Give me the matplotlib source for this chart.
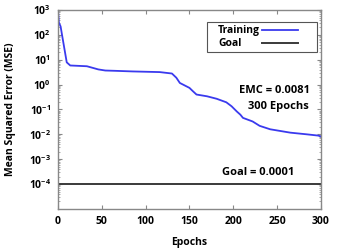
import numpy as np
import matplotlib.pyplot as plt
from matplotlib.ticker import FixedLocator, LogLocator, NullFormatter
from matplotlib.lines import Line2D
from matplotlib.patches import Rectangle

# values
epochs = [0, 1, 3, 4.5, 10, 14, 33, 46, 54, 65, 85, 116, 130, 135, 139, 150,
          154, 158, 170, 181, 192, 198, 204, 208, 211, 222, 230, 242, 265,
          284, 297, 300]
mse = [1000, 320, 220, 107, 7.9, 5.9, 5.5, 4.1, 3.7, 3.6, 3.4, 3.2, 2.8, 1.9,
       1.17, 0.74, 0.54, 0.40, 0.34, 0.27, 0.195, 0.135, 0.083, 0.062, 0.046,
       0.033, 0.022, 0.016, 0.0117, 0.010, 0.0089, 0.0081]
goal = 1e-4
x_ticks = [0, 50, 100, 150, 200, 250, 300]
y_exps = [3, 2, 1, 0, -1, -2, -3, -4]
series_names = ['Training', 'Goal']

plt.rcParams['font.family'] = 'Open Sans'
plt.rcParams['font.weight'] = 'bold'
plt.rcParams['mathtext.fontset'] = 'custom'
plt.rcParams['mathtext.rm'] = 'Open Sans:bold'
plt.rcParams['mathtext.it'] = 'Open Sans:bold'
plt.rcParams['mathtext.bf'] = 'Open Sans:bold'

fig = plt.figure(figsize=(3.37, 2.52), dpi=100)
ax = fig.add_axes([0.172, 0.171, 0.7805, 0.789])

train_line, = ax.semilogy(epochs, mse, color='#3a3aee', lw=1.3)
goal_line = ax.axhline(goal, color='#3a3a3a', lw=1.4)

ax.set_xlim(0, 300)
ax.set_ylim(1e-5, 1e3)
ax.set_xticks(x_ticks)
ax.set_xticklabels([str(t) for t in x_ticks], fontsize=7.5, fontweight='bold')
ax.yaxis.set_major_locator(FixedLocator([10.0 ** e for e in y_exps]))
ax.set_yticklabels([r'$10^{%d}$' % e for e in y_exps], fontsize=7.5)
ax.yaxis.set_minor_locator(LogLocator(base=10, subs=np.arange(2, 10), numticks=20))
ax.yaxis.set_minor_formatter(NullFormatter())

ax.tick_params(which='both', direction='in', top=True, right=True,
               color='#888888')
ax.tick_params(axis='x', pad=5)
ax.tick_params(axis='y', pad=5)
ax.tick_params(which='major', length=3, width=0.8)
ax.tick_params(which='minor', length=1.5, width=0.5)
for s in ax.spines.values():
    s.set_color('#888888')
    s.set_linewidth(1.0)

ax.set_xlabel('Epochs', fontsize=7.5, fontweight='bold', labelpad=7)
ax.set_ylabel('Mean Squared Error (MSE)', fontsize=7.5, fontweight='bold',
              labelpad=9)

# legend box: text on the left, line samples on the right
tr = ax.transAxes
ax.add_patch(Rectangle((0.567, 0.789), 0.418, 0.151, transform=tr,
                       facecolor='white', edgecolor='#555555', lw=0.8, zorder=5))
for name, src, yy in zip(series_names, [train_line, goal_line], [0.899, 0.834]):
    ax.text(0.608, yy, name, transform=tr, ha='left', va='center',
            fontsize=7.5, fontweight='bold', zorder=6)
    ax.add_line(Line2D([0.776, 0.913], [yy, yy], transform=tr,
                       color=src.get_color(), lw=src.get_linewidth(), zorder=6))

ax.text(288, 10 ** -0.25, 'EMC = 0.0081', ha='right', va='center',
        fontsize=8, fontweight='bold')
ax.text(286, 10 ** -0.87, '300 Epochs', ha='right', va='center',
        fontsize=8, fontweight='bold')
ax.text(270, 10 ** -3.53, 'Goal = 0.0001', ha='right', va='center',
        fontsize=8, fontweight='bold')

fig.savefig('out.png', dpi=100)
